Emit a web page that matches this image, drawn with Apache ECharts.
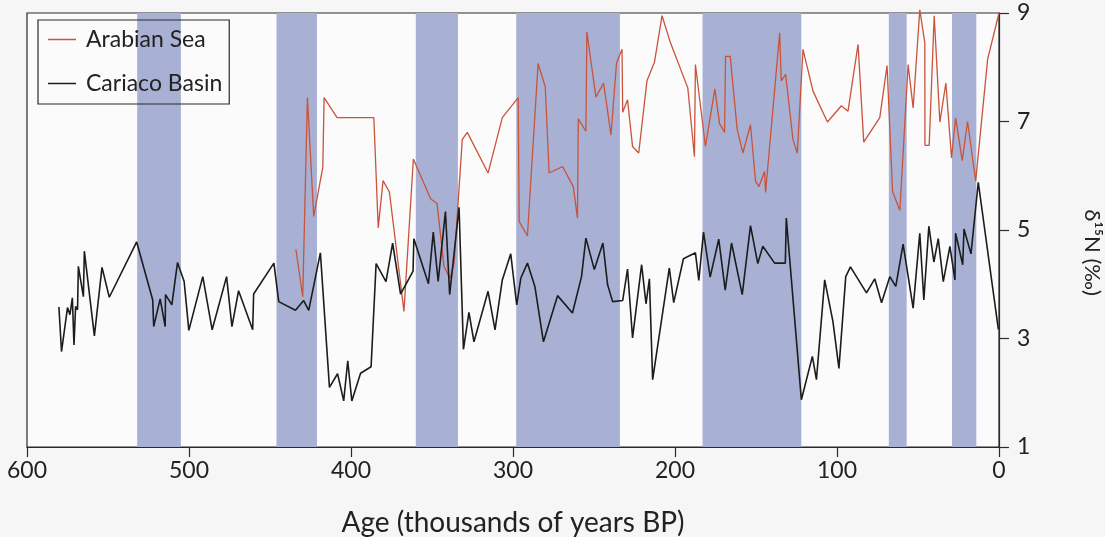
<!DOCTYPE html>
<html>
<head>
    <meta charset="utf-8">
    <title>δ15N Arabian Sea / Cariaco Basin</title>
    <script src="https://cdn.jsdelivr.net/npm/echarts@6/dist/echarts.min.js"></script>
    <style>
        html, body { margin: 0; padding: 0; background: #f6f6f6; }
        #main { width: 1105px; height: 537px; }
    </style>
</head>
<body>
<div id="main"></div>
<script>
    // Cariaco Basin (black), age in kyr BP
    var cariacoAge = [580.3, 578.7, 575.0, 573.5, 572.0, 571.0, 570.0, 568.8, 568.3, 565.2, 564.6, 558.4, 553.7, 549.2,
        532.3, 522.4, 521.8, 517.8, 514.7, 514.5, 510.6, 507.1, 503.0, 500.1, 491.5, 485.7, 476.8, 473.5, 469.4, 460.7,
        460.1, 447.6, 444.6, 434.3, 429.2, 426.1, 418.9, 413.3, 408.3, 404.5, 402.0, 399.5, 394.1, 387.6, 384.5, 378.4,
        374.3, 369.4, 361.7, 361.2, 352.2, 349.2, 346.2, 341.7, 339.1, 333.3, 330.6, 327.2, 324.1, 315.4, 311.1, 306.6,
        301.4, 297.7, 295.2, 291.1, 286.5, 281.2, 272.5, 263.3, 257.7, 255.0, 249.8, 244.5, 241.6, 238.5, 232.3, 229.3,
        226.2, 220.6, 217.9, 215.8, 213.8, 203.5, 200.8, 194.8, 187.4, 185.3, 182.4, 178.3, 173.0, 169.0, 165.1, 158.5,
        153.4, 148.9, 145.8, 138.5, 131.9, 131.3, 122.0, 115.2, 112.7, 107.6, 102.5, 98.8, 94.6, 91.7, 81.8, 76.7, 72.5,
        67.4, 63.7, 59.2, 53.0, 48.9, 46.4, 43.3, 40.2, 37.5, 34.4, 30.3, 27.2, 26.8, 22.4, 21.6, 17.3, 12.8, 0.4];
    var cariacoD15N = [3.58, 2.76, 3.57, 3.44, 3.75, 2.88, 3.59, 3.53, 4.33, 3.77, 4.61, 3.05, 4.31, 3.76,
        4.78, 3.71, 3.22, 3.73, 3.22, 3.81, 3.62, 4.40, 4.05, 3.15, 4.14, 3.16, 4.14, 3.22, 3.88, 3.16,
        3.82, 4.39, 3.68, 3.52, 3.70, 3.52, 4.58, 2.10, 2.35, 1.85, 2.59, 1.85, 2.36, 2.48, 4.38, 4.05,
        4.76, 3.82, 4.24, 4.84, 4.01, 4.96, 4.05, 5.34, 3.81, 5.42, 2.80, 3.48, 2.94, 3.87, 3.16, 4.08,
        4.56, 3.62, 4.11, 4.39, 3.96, 2.94, 3.79, 3.47, 4.14, 4.85, 4.27, 4.76, 3.99, 3.68, 3.70, 4.28,
        3.01, 4.36, 3.64, 4.10, 2.24, 4.30, 3.66, 4.47, 4.58, 4.07, 4.96, 4.13, 4.83, 3.89, 4.76, 3.81,
        5.08, 4.38, 4.70, 4.39, 4.39, 5.22, 1.87, 2.67, 2.24, 4.08, 3.31, 2.45, 4.14, 4.32, 3.84, 4.10, 3.66,
        4.14, 3.96, 4.74, 3.56, 4.94, 3.71, 5.07, 4.41, 4.84, 4.05, 4.70, 4.08, 4.94, 4.36, 5.02, 4.56, 5.88, 3.17];

    // Arabian Sea (red)
    var arabianAge = [434.0, 429.8, 426.9, 423.0, 417.4, 416.6, 408.6, 385.9, 383.2, 380.2, 376.3, 367.3, 361.5, 350.8,
        346.9, 342.6, 338.9, 336.4, 331.3, 328.2, 315.4, 306.6, 296.8, 296.2, 291.1, 284.5, 280.1, 277.7, 269.4, 262.8,
        260.2, 259.7, 255.0, 254.4, 248.8, 244.1, 239.5, 236.1, 232.7, 232.3, 229.3, 226.2, 222.4, 217.3, 212.7, 208.0,
        202.8, 192.1, 188.0, 187.4, 181.2, 175.4, 172.5, 169.4, 168.8, 165.9, 161.6, 158.1, 153.4, 150.3, 148.2, 144.7,
        144.1, 135.4, 134.4, 131.7, 127.2, 124.5, 121.0, 114.8, 105.9, 97.3, 93.2, 87.0, 83.5, 73.6, 69.1, 65.7, 61.2,
        56.1, 53.0, 48.9, 45.8, 45.7, 43.1, 40.0, 36.5, 32.8, 29.3, 26.8, 22.7, 19.4, 14.4, 7.0, 0.0];
    var arabianD15N = [4.64, 3.77, 7.44, 5.25, 6.16, 7.44, 7.07, 7.07, 5.04, 5.91, 5.70, 3.50, 6.31, 5.57,
        5.49, 4.33, 4.11, 4.38, 6.67, 6.80, 6.05, 7.07, 7.44, 5.16, 4.89, 8.07, 7.64, 6.05, 6.17, 5.80,
        5.22, 7.05, 6.82, 8.65, 7.45, 7.71, 6.75, 8.08, 8.33, 7.17, 7.40, 6.54, 6.42, 7.75, 8.09, 8.95,
        8.45, 7.62, 6.35, 8.05, 6.54, 7.60, 6.96, 6.80, 8.20, 8.20, 6.85, 6.42, 6.94, 5.90, 5.80, 6.08,
        5.69, 8.63, 7.75, 7.87, 6.67, 6.42, 8.33, 7.56, 6.99, 7.29, 7.19, 8.42, 6.62, 7.07, 8.03, 5.71, 5.36,
        8.05, 7.25, 9.06, 8.45, 6.56, 6.56, 8.95, 6.99, 7.71, 6.33, 7.07, 6.28, 7.00, 5.90, 8.15, 9.00];

    // shaded intervals (kyr BP)
    var bandStart = [532, 446, 360, 298, 183, 68, 29];
    var bandEnd = [505, 421, 334, 234, 122, 57, 14];

    var ageTicks = [0, 100, 200, 300, 400, 500, 600];
    var d15nTicks = [1, 3, 5, 7, 9];

    var fontFam = 'Lato, "Open Sans", sans-serif';

    function zip(xs, ys) {
        var out = [];
        for (var i = 0; i < xs.length; i++) {
            out.push([xs[i], ys[i]]);
        }
        return out;
    }

    var bands = [];
    for (var i = 0; i < bandStart.length; i++) {
        bands.push([{xAxis: bandStart[i]}, {xAxis: bandEnd[i]}]);
    }

    var chart = echarts.init(document.getElementById('main'), null, {renderer: 'canvas'});

    var option = {
        backgroundColor: '#f6f6f6',
        animation: false,
        grid: {
            left: 27,
            right: 106,
            top: 13,
            bottom: 90,
            outerBoundsMode: 'none',
            containLabel: false,
            show: true,
            backgroundColor: '#fbfbfb',
            borderColor: '#2a2a2a',
            borderWidth: 1.2
        },
        legend: {
            orient: 'vertical',
            left: 38,
            top: 20,
            padding: [8, 7, 9, 10],
            itemGap: 21,
            itemWidth: 28,
            itemHeight: 1.5,
            icon: 'rect',
            borderColor: '#2a2a2a',
            borderWidth: 1.2,
            textStyle: {
                fontFamily: fontFam,
                fontSize: 23,
                color: '#222',
                padding: [0, 0, 0, 5]
            },
            data: ['Arabian Sea', 'Cariaco Basin']
        },
        xAxis: {
            type: 'value',
            inverse: true,
            min: ageTicks[0],
            max: ageTicks[ageTicks.length - 1],
            interval: 100,
            name: 'Age (thousands of years BP)',
            nameLocation: 'middle',
            nameGap: 62,
            nameTextStyle: {fontFamily: fontFam, fontSize: 28, color: '#222'},
            axisLine: {lineStyle: {color: '#2a2a2a', width: 1.2}},
            axisTick: {length: 10, lineStyle: {color: '#2a2a2a', width: 1.2}},
            axisLabel: {fontFamily: fontFam, fontSize: 23, color: '#222', margin: 12},
            splitLine: {show: false}
        },
        yAxis: {
            type: 'value',
            position: 'right',
            min: d15nTicks[0],
            max: d15nTicks[d15nTicks.length - 1],
            interval: 2,
            name: 'δ¹⁵N (‰)',
            nameLocation: 'middle',
            nameRotate: -90,
            nameGap: 82,
            nameTextStyle: {fontFamily: fontFam, fontSize: 22, color: '#222', padding: [0, 0, 0, 45]},
            axisLine: {lineStyle: {color: '#2a2a2a', width: 1.2}},
            axisTick: {length: 10, lineStyle: {color: '#2a2a2a', width: 1.2}},
            axisLabel: {fontFamily: fontFam, fontSize: 23, color: '#222', margin: 18},
            splitLine: {show: false}
        },
        series: [
            {
                name: 'Arabian Sea',
                type: 'line',
                data: zip(arabianAge, arabianD15N),
                showSymbol: false,
                clip: false,
                z: 3,
                color: '#c9533b',
                lineStyle: {color: '#c9533b', width: 1.3}
            },
            {
                name: 'Cariaco Basin',
                type: 'line',
                data: zip(cariacoAge, cariacoD15N),
                showSymbol: false,
                z: 4,
                color: '#1c1c1c',
                lineStyle: {color: '#1c1c1c', width: 1.6},
                markArea: {
                    silent: true,
                    z: 1,
                    itemStyle: {color: '#a8b1d4'},
                    data: bands
                }
            }
        ]
    };
    chart.setOption(option);
    window.onresize = function () {
        chart.resize();
    };
</script>
</body>
</html>
